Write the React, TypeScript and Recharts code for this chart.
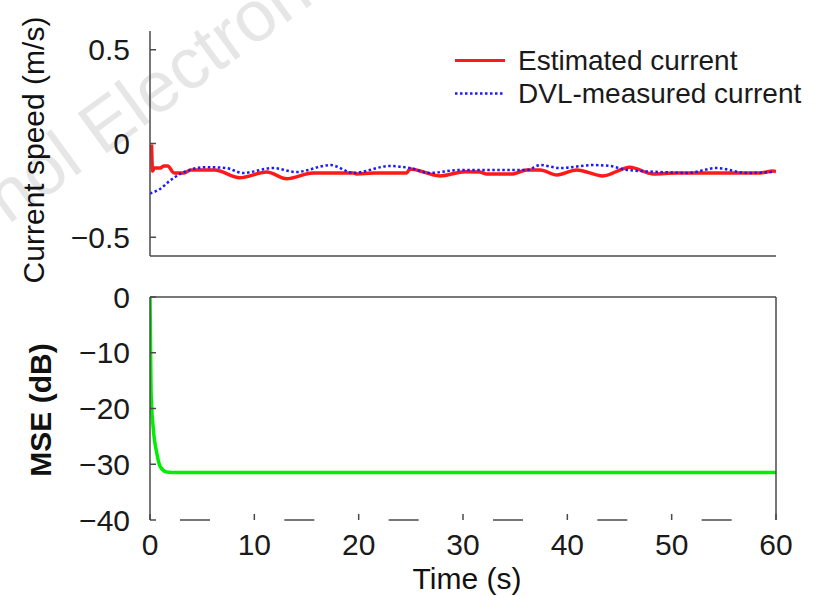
import React from 'react';
import { LineChart, Line, XAxis, YAxis } from 'recharts';

// Estimated current (red)
const estTime = [0.15, 0.25, 0.4, 1.0, 1.3, 1.7, 2.3, 3.3, 3.9, 6.2, 8.6, 11.2, 13.1, 15.6, 19.5, 19.8, 21.4, 24.6, 24.9, 27.8, 30.2, 31.6, 32.2, 34.8, 36.1, 37.4, 39.0, 40.9, 43.4, 46.0, 48.2, 50.5, 58.5, 59.7, 60];
const estSpeed = [-0.005, -0.147, -0.131, -0.131, -0.12, -0.12, -0.157, -0.157, -0.141, -0.141, -0.183, -0.152, -0.188, -0.157, -0.157, -0.162, -0.157, -0.157, -0.136, -0.173, -0.15, -0.152, -0.162, -0.162, -0.141, -0.141, -0.168, -0.141, -0.173, -0.126, -0.162, -0.157, -0.157, -0.147, -0.15];

// DVL-measured current (blue, dotted)
const dvlTime = [0, 1, 1.9, 2.9, 5.4, 7.3, 8.9, 11.8, 14, 17.3, 19.5, 23, 24.9, 26.8, 29.7, 33, 36.1, 37.4, 39.3, 42.5, 44.1, 45.7, 48.9, 51.5, 54.3, 57.2, 59.7];
const dvlSpeed = [-0.267, -0.241, -0.199, -0.162, -0.126, -0.131, -0.157, -0.131, -0.152, -0.115, -0.157, -0.12, -0.131, -0.157, -0.141, -0.141, -0.141, -0.115, -0.131, -0.115, -0.12, -0.141, -0.152, -0.157, -0.131, -0.157, -0.152];

// MSE (green)
const mseTime = [0, 0.1, 0.3, 0.65, 1.0, 1.6, 2.5, 60];
const mseDb = [0, -17, -23.3, -28, -30.5, -31.4, -31.5, -31.5];

const timeTicks = [0, 10, 20, 30, 40, 50, 60];
const speedTicks = [-0.5, 0, 0.5];
const mseTicks = [-40, -30, -20, -10, 0];

const estData = estTime.map((t, i) => ({ t, v: estSpeed[i] }));
const dvlData = dvlTime.map((t, i) => ({ t, v: dvlSpeed[i] }));
const mseData = mseTime.map((t, i) => ({ t, v: mseDb[i] }));

const FONT = 'Liberation Sans, Arial, sans-serif';
const AXIS = { stroke: '#4a4a4a', strokeWidth: 1.5 };
const tickStyle = { fontSize: 30, fill: '#1a1a1a', fontFamily: FONT };
const fmt = (v: number) => (v < 0 ? '\u2212' + Math.abs(v) : String(v));

const LegendBox = () => (
  <div style={{ fontFamily: FONT, fontSize: 28, color: '#1a1a1a', lineHeight: '33px' }}>
    <div style={{ display: 'flex', alignItems: 'center', height: 33 }}>
      <svg width={56} height={33}>
        <line x1={5} x2={55} y1={16.5} y2={16.5} stroke="#ff1a1a" strokeWidth={3} />
      </svg>
      <span style={{ marginLeft: 12 }}>Estimated current</span>
    </div>
    <div style={{ display: 'flex', alignItems: 'center', height: 33 }}>
      <svg width={56} height={33}>
        <line x1={5} x2={55} y1={16.5} y2={16.5} stroke="#1a1aff" strokeWidth={2.5} strokeDasharray="2.5 2.5" />
      </svg>
      <span style={{ marginLeft: 12 }}>DVL-measured current</span>
    </div>
  </div>
);

export default function App() {
  return (
    <div style={{ position: 'absolute', left: 0, top: 0, width: 816, height: 596, background: '#fff' }}>
      <svg width={816} height={596} style={{ position: 'absolute', left: 0, top: 0 }}>
        <text x={8} y={225} transform="rotate(-36 8 225)" fontSize={72} fill="#e6e6e6" fontFamily={FONT}>
          nol Electron
        </text>
        <text x={44} y={150} transform="rotate(-90 44 150)" textAnchor="middle" fontSize={30} fill="#111" fontFamily={FONT}>
          Current speed (m/s)
        </text>
        <text x={51} y={410} transform="rotate(-90 51 410)" textAnchor="middle" fontSize={30} fontWeight="bold" fill="#111" fontFamily={FONT}>
          MSE (dB)
        </text>
        <text x={467} y={589} textAnchor="middle" fontSize={30} fill="#111" fontFamily={FONT}>
          Time (s)
        </text>
      </svg>

      <div style={{ position: 'absolute', left: 0, top: 0 }}>
        <LineChart width={816} height={280} margin={{ top: 31, right: 40, bottom: 4, left: 90 }}>
          <XAxis
            dataKey="t"
            type="number"
            domain={[0, 60]}
            ticks={timeTicks}
            allowDataOverflow
            tick={false}
            tickSize={-6}
            height={20}
            axisLine={AXIS}
            tickLine={AXIS}
          />
          <YAxis
            type="number"
            domain={[-0.6, 0.6]}
            ticks={speedTicks}
            allowDataOverflow
            width={60}
            tickSize={-6}
            tickMargin={26}
            tickFormatter={fmt}
            tick={tickStyle}
            axisLine={AXIS}
            tickLine={AXIS}
          />
          <Line data={estData} dataKey="v" type="monotone" stroke="#ff1a1a" strokeWidth={3.5} dot={false} isAnimationActive={false} />
          <Line data={dvlData} dataKey="v" type="monotone" stroke="#1a1aff" strokeWidth={2.5} strokeDasharray="2.5 2.5" dot={false} isAnimationActive={false} />
        </LineChart>
      </div>

      <div style={{ position: 'absolute', left: 450, top: 44 }}>
        <LegendBox />
      </div>

      <div style={{ position: 'absolute', left: 0, top: 280 }}>
        <LineChart width={816} height={316} data={mseData} margin={{ top: 7, right: 30, bottom: 6, left: 90 }}>
          <XAxis
            dataKey="t"
            type="number"
            domain={[0, 60]}
            ticks={timeTicks}
            allowDataOverflow
            height={70}
            tickSize={-6}
            tickMargin={20}
            tick={tickStyle}
            axisLine={{ stroke: '#4a4a4a', strokeWidth: 1.5, strokeDasharray: '0 30 30 44.33' }}
            tickLine={AXIS}
          />
          <XAxis
            xAxisId="top"
            orientation="top"
            dataKey="t"
            type="number"
            domain={[0, 60]}
            ticks={timeTicks}
            allowDataOverflow
            height={10}
            tick={false}
            tickSize={-6}
            axisLine={AXIS}
            tickLine={AXIS}
          />
          <YAxis
            type="number"
            domain={[-40, 0]}
            ticks={mseTicks}
            allowDataOverflow
            width={60}
            tickSize={-6}
            tickMargin={26}
            tickFormatter={fmt}
            tick={tickStyle}
            axisLine={AXIS}
            tickLine={AXIS}
          />
          <YAxis
            yAxisId="right"
            orientation="right"
            type="number"
            domain={[-40, 0]}
            ticks={mseTicks}
            allowDataOverflow
            width={10}
            tick={false}
            tickSize={-6}
            axisLine={AXIS}
            tickLine={AXIS}
          />
          <Line dataKey="v" type="monotone" stroke="#00ee00" strokeWidth={3.5} dot={false} isAnimationActive={false} />
        </LineChart>
      </div>
    </div>
  );
}
